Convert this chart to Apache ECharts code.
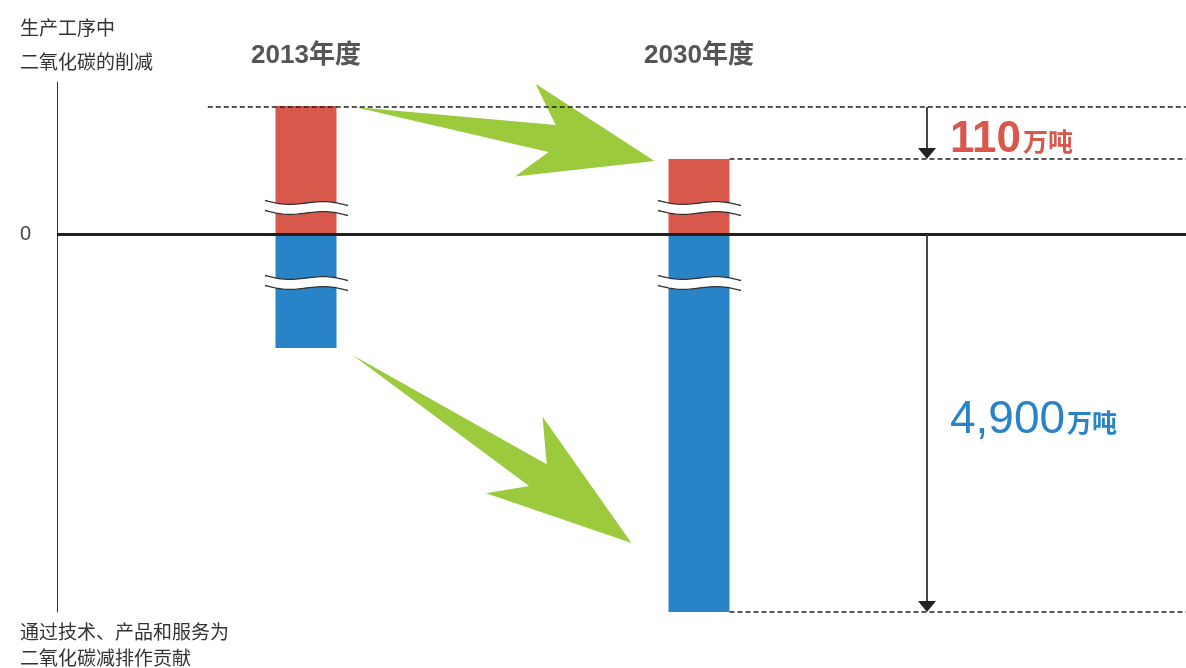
<!DOCTYPE html>
<html><head><meta charset="utf-8">
<script src="https://cdn.jsdelivr.net/npm/echarts@6/dist/echarts.min.js"></script>
<style>html,body{margin:0;padding:0;background:#fff}#c{width:1186px;height:668px}</style>
</head><body><div id="c"></div>
<script>
// ---- data (relative bar heights as drawn; the original uses a broken scale) ----
const categories = ['2013年度', '2030年度'];
const processReduction = [128, 75];      // red, above zero
const contribution = [-114, -378];       // blue, below zero
const reductionLabels = ['110', '4,900'];
const unitLabel = '万吨';
const yTickValues = [0];
const yTickLabels = ['0'];
const topTitle = ['生产工序中', '二氧化碳的削减'];
const bottomTitle = ['通过技术、产品和服务为', '二氧化碳减排作贡献'];

// ---- styling ----
const RED = '#D9584C', BLUE = '#2883C7', GREEN = '#9BCA3C', DARK = '#333';
const LATIN = "'Liberation Sans', 'Noto Sans CJK SC', sans-serif";
const CJK = "'Noto Sans CJK SC', sans-serif";
const X_MIN = -249 / 393, X_MAX = X_MIN + 1129 / 393;
const HALF = 30.5 / 393;

const chart = echarts.init(document.getElementById('c'));

function arrowPoly(T, H) {
  const dx = H[0] - T[0], dy = H[1] - T[1], L = Math.hypot(dx, dy);
  const ux = dx / L, uy = dy / L, vx = -uy, vy = ux;
  const P = (a, p) => [T[0] + ux * a + vx * p, T[1] + uy * a + vy * p];
  return [P(0, 0), P(0.66 * L, -18), P(0.571 * L, -55), P(L, 0), P(0.559 * L, 40), P(0.653 * L, 10)];
}

function renderArrow(params, api) {
  let T, H;
  if (params.dataIndex === 0) {
    T = api.coord([0 + HALF, processReduction[0]]); T = [T[0] + 18, T[1] + 1];
    H = api.coord([1 - HALF, processReduction[1]]); H = [H[0] - 14, H[1] + 2];
  } else {
    T = api.coord([0 + HALF, contribution[0]]); T = [T[0] + 16, T[1] + 7];
    H = api.coord([1 - HALF, contribution[1]]); H = [H[0] - 37, H[1] - 69];
  }
  return { type: 'polygon', shape: { points: arrowPoly(T, H) }, style: { fill: GREEN } };
}

function renderBreak(params, api) {
  const c = api.coord([api.value(0), 0]);
  const children = [];
  [-26, 49].forEach(off => {
    const yc = c[1] + off;
    const top = [], bot = [];
    const N = 30;
    for (let k = 0; k <= N; k++) {
      const t = k / N;
      const x = c[0] - 41 + 83 * t;
      const y = yc - 5 + 5 * (t - 0.5) + 2.5 * Math.sin(2 * Math.PI * t);
      top.push([x, y]); bot.push([x, y + 10]);
    }
    children.push({ type: 'polygon', shape: { points: top.concat(bot.slice().reverse()) }, style: { fill: '#fff' } });
    children.push({ type: 'polyline', shape: { points: top }, style: { stroke: DARK, lineWidth: 1.3, fill: null } });
    children.push({ type: 'polyline', shape: { points: bot }, style: { stroke: DARK, lineWidth: 1.3, fill: null } });
  });
  return { type: 'group', children };
}

const annotations = [
  { from: processReduction[0], to: processReduction[1], fromDy: 1, label: reductionLabels[0], color: RED, weight: 'bold', size: 44, dy: 5 },
  { from: 0, to: contribution[1], fromDy: 0, label: reductionLabels[1], color: BLUE, weight: 'normal', size: 46, dy: -4 }
];

function renderAnnotation(params, api) {
  const a = annotations[params.dataIndex];
  const x = api.coord([1, 0])[0] + 228;
  const y1 = api.coord([0, a.from])[1] + a.fromDy;
  const y2 = api.coord([0, a.to])[1];
  return {
    type: 'group',
    children: [
      { type: 'line', shape: { x1: x, y1: y1, x2: x, y2: y2 - 9 }, style: { stroke: DARK, lineWidth: 1.8 } },
      { type: 'polygon', shape: { points: [[x - 9, y2 - 11], [x + 9, y2 - 11], [x, y2]] }, style: { fill: '#222' } },
      {
        type: 'text',
        style: {
          x: x + 23, y: (y1 + y2) / 2 + a.dy,
          text: '{n|' + a.label + '}{u|' + unitLabel + '}',
          align: 'left', verticalAlign: 'middle',
          rich: {
            n: { fontSize: a.size, fontWeight: a.weight, fontFamily: LATIN, fill: a.color, verticalAlign: 'bottom', lineHeight: 48 },
            u: { fontSize: 25, fontWeight: 'bold', fontFamily: CJK, fill: a.color, verticalAlign: 'bottom', lineHeight: 32, padding: [0, 0, 8, 2] }
          }
        }
      }
    ]
  };
}

const dashStyle = { color: '#222', width: 1.6, type: [5, 3] };

const option = {
  animation: false,
  backgroundColor: '#fff',
  grid: { left: 57, right: 0, top: 82, bottom: 56, outerBoundsMode: 'none' },
  xAxis: {
    type: 'value', position: 'top', min: X_MIN, max: X_MAX,
    axisLine: { show: false, onZero: false }, axisTick: { show: false }, splitLine: { show: false },
    axisLabel: {
      customValues: categories.map((c, i) => i),
      formatter: v => categories[Math.round(v)] || '',
      fontSize: 26, fontWeight: 'bold', color: '#555', fontFamily: LATIN, margin: 13
    }
  },
  yAxis: {
    type: 'value', min: -378, max: 152,
    axisLine: { show: true, onZero: false, lineStyle: { color: DARK, width: 1 } },
    axisTick: { show: false }, splitLine: { show: false },
    axisLabel: {
      customValues: yTickValues,
      formatter: v => yTickLabels[yTickValues.indexOf(v)] || '',
      fontSize: 20, color: '#444', fontFamily: LATIN, margin: 26
    }
  },
  graphic: [
    { type: 'text', left: 20, top: 18, style: { text: topTitle[0], fontSize: 19, fill: DARK, fontFamily: CJK } },
    { type: 'text', left: 20, top: 52, style: { text: topTitle[1], fontSize: 19, fill: DARK, fontFamily: CJK } },
    { type: 'text', left: 20, top: 622, style: { text: bottomTitle[0], fontSize: 19, fill: DARK, fontFamily: CJK } },
    { type: 'text', left: 20, top: 648, style: { text: bottomTitle[1], fontSize: 19, fill: DARK, fontFamily: CJK } }
  ],
  series: [
    {
      type: 'line', data: [], z: 1, silent: true,
      markLine: {
        silent: true, symbol: 'none', label: { show: false }, lineStyle: dashStyle,
        data: [
          [{ coord: [-0.25, processReduction[0] - 1] }, { coord: [X_MAX, processReduction[0] - 1] }],
          [{ coord: [1 + HALF, processReduction[1]] }, { coord: [X_MAX, processReduction[1]] }],
          [{ coord: [1 + HALF, contribution[1]] }, { coord: [X_MAX, contribution[1]] }]
        ]
      }
    },
    {
      type: 'bar', stack: 'total', barWidth: 61, z: 2, silent: true,
      itemStyle: { color: RED },
      data: processReduction.map((v, i) => [i, v])
    },
    {
      type: 'bar', stack: 'total', barWidth: 61, z: 2, silent: true,
      itemStyle: { color: BLUE },
      data: contribution.map((v, i) => [i, v])
    },
    {
      type: 'custom', z: 3, silent: true, clip: false,
      renderItem: renderArrow,
      data: [[0, 0], [1, 0]]
    },
    {
      type: 'custom', z: 4, silent: true, clip: false,
      renderItem: renderBreak,
      data: categories.map((c, i) => [i, 0])
    },
    {
      type: 'custom', z: 5, silent: true, clip: false,
      renderItem: renderAnnotation,
      data: [[0, 0], [1, 0]],
      markLine: {
        silent: true, symbol: 'none', label: { show: false },
        lineStyle: { color: '#231f20', width: 3, type: 'solid' },
        data: [[{ coord: [X_MIN, 0] }, { coord: [X_MAX, 0] }]]
      }
    }
  ]
};
chart.setOption(option);
</script>
</body></html>
